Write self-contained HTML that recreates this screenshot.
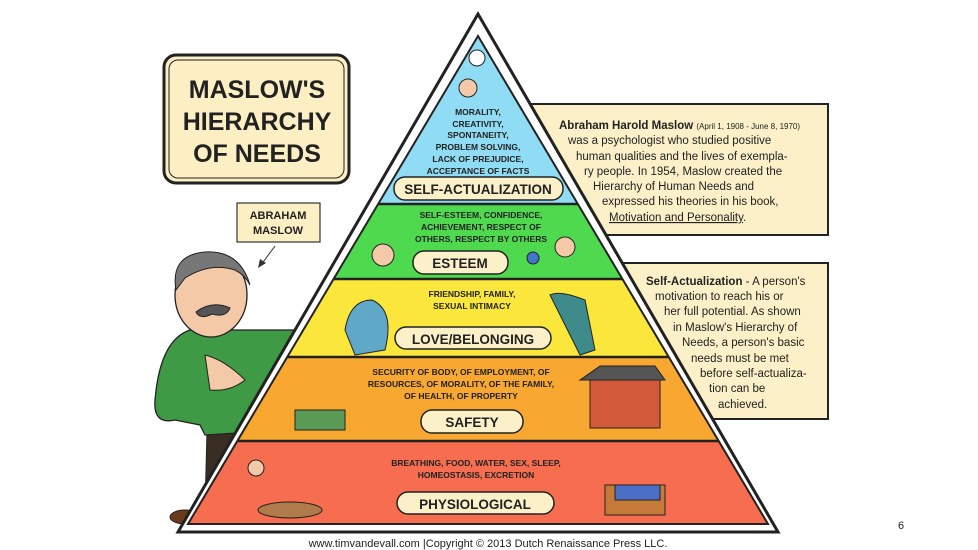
<!DOCTYPE html>
<html><head><meta charset="utf-8"><style>
html,body{margin:0;padding:0;background:#fff;}
svg{display:block;}
.c{font-family:"Liberation Sans",sans-serif;font-weight:bold;fill:#222;text-anchor:middle;}
.p{font-family:"Liberation Sans",sans-serif;fill:#222;}
</style></head><body>
<svg width="978" height="550" viewBox="0 0 978 550" xmlns="http://www.w3.org/2000/svg">
<rect width="978" height="550" fill="#fff"/>
<!-- right boxes -->
<rect x="520" y="104" width="308" height="131" fill="#fcf0c8" stroke="#222" stroke-width="2"/>
<rect x="600" y="263" width="228" height="156" fill="#fcf0c8" stroke="#222" stroke-width="2"/>
<!-- title box -->
<rect x="164" y="55" width="185" height="128" rx="12" fill="#fbefc3" stroke="#222" stroke-width="3"/>
<rect x="169" y="60" width="175" height="118" rx="9" fill="none" stroke="#222" stroke-width="1"/>
<text class="c" x="257" y="98" font-size="25" fill="#111">MASLOW'S</text>
<text class="c" x="257" y="130" font-size="25" fill="#111">HIERARCHY</text>
<text class="c" x="257" y="162" font-size="25" fill="#111">OF NEEDS</text>
<!-- abraham label -->
<rect x="237" y="203" width="83" height="39" fill="#fbefc3" stroke="#333" stroke-width="1.2"/>
<text class="c" x="278" y="219" font-size="11">ABRAHAM</text>
<text class="c" x="278" y="234" font-size="11">MASLOW</text>
<line x1="275" y1="246" x2="261" y2="265" stroke="#333" stroke-width="1"/>
<path d="M258 268 L260 259 L266 263 Z" fill="#333"/>
<!-- man -->
<path d="M207 430 L240 430 L245 510 L205 510 Z" fill="#3a2e22" stroke="#222"/>
<ellipse cx="185" cy="517" rx="15" ry="7" fill="#6b3a1c" stroke="#222"/>
<path d="M190 330 Q160 340 155 400 Q153 425 175 420 L200 425 L205 435 L290 430 L300 330 Z" fill="#3f9a45" stroke="#222" stroke-width="1.3"/>
<path d="M205 355 Q225 360 245 380 Q230 392 210 390 Z" fill="#f3c9a8" stroke="#222"/>
<ellipse cx="211" cy="295" rx="36" ry="42" fill="#f3c9a8" stroke="#222" stroke-width="1.3"/>
<path d="M176 290 Q170 255 205 252 Q240 250 250 285 Q245 275 235 270 Q210 262 185 278 Z" fill="#777" stroke="#222"/>
<path d="M196 312 Q212 300 230 308 Q226 318 212 314 Q200 320 196 312 Z" fill="#555" stroke="#222"/>
<!-- pyramid -->
<path d="M478 14 L178 532 L778 532 Z" fill="#fff" stroke="#222" stroke-width="3"/>
<clipPath id="tri"><path d="M478 36 L188 524 L768 524 Z"/></clipPath>
<g clip-path="url(#tri)">
<rect x="150" y="0" width="700" height="204" fill="#90dcf4"/>
<rect x="150" y="204" width="700" height="75" fill="#4fd94f"/>
<rect x="150" y="279" width="700" height="78" fill="#fbe73b"/>
<rect x="150" y="357" width="700" height="84" fill="#f8a731"/>
<rect x="150" y="441" width="700" height="90" fill="#f66d50"/>
<g stroke="#222" stroke-width="2.5">
<line x1="150" y1="204" x2="850" y2="204"/><line x1="150" y1="279" x2="850" y2="279"/>
<line x1="150" y1="357" x2="850" y2="357"/><line x1="150" y1="441" x2="850" y2="441"/>
</g>
</g>
<path d="M478 36 L188 524 L768 524 Z" fill="none" stroke="#222" stroke-width="2"/>
<!-- small figures -->
<circle cx="477" cy="58" r="8" fill="#fff" stroke="#222"/>
<circle cx="468" cy="88" r="9" fill="#f3c9a8" stroke="#222"/>
<circle cx="383" cy="255" r="11" fill="#f3c9a8" stroke="#222"/>
<circle cx="565" cy="247" r="10" fill="#f3c9a8" stroke="#222"/>
<circle cx="533" cy="258" r="6" fill="#4477cc" stroke="#222"/>
<path d="M345 330 Q350 300 372 300 Q395 310 385 350 L355 355 Z" fill="#5fa8c8" stroke="#222"/>
<path d="M550 295 Q560 290 585 300 L595 350 L580 355 Z" fill="#3f8a8a" stroke="#222"/>
<rect x="590" y="378" width="70" height="50" fill="#d25a3a" stroke="#222"/>
<path d="M580 380 L600 366 L655 366 L665 380 Z" fill="#555" stroke="#222"/>
<rect x="295" y="410" width="50" height="20" fill="#5a9a55" stroke="#222"/>
<ellipse cx="290" cy="510" rx="32" ry="8" fill="#b07a4a" stroke="#222"/>
<circle cx="256" cy="468" r="8" fill="#f3c9a8" stroke="#222"/>
<rect x="605" y="485" width="60" height="30" fill="#c57a3a" stroke="#222"/>
<rect x="615" y="485" width="45" height="15" fill="#4a6fc4" stroke="#222"/>
<!-- layer texts -->
<g class="c" font-size="8.5">
<text x="478" y="115">MORALITY,</text><text x="478" y="127">CREATIVITY,</text><text x="478" y="138">SPONTANEITY,</text><text x="478" y="150">PROBLEM SOLVING,</text><text x="478" y="162">LACK OF PREJUDICE,</text><text x="478" y="174">ACCEPTANCE OF FACTS</text>
<text x="481" y="218">SELF-ESTEEM, CONFIDENCE,</text><text x="481" y="230">ACHIEVEMENT, RESPECT OF</text><text x="481" y="242">OTHERS, RESPECT BY OTHERS</text>
<text x="472" y="297">FRIENDSHIP, FAMILY,</text><text x="472" y="309">SEXUAL INTIMACY</text>
<text x="461" y="375">SECURITY OF BODY, OF EMPLOYMENT, OF</text><text x="461" y="387">RESOURCES, OF MORALITY, OF THE FAMILY,</text><text x="461" y="399">OF HEALTH, OF PROPERTY</text>
<text x="476" y="466">BREATHING, FOOD, WATER, SEX, SLEEP,</text><text x="476" y="478">HOMEOSTASIS, EXCRETION</text>
</g>
<!-- pills -->
<g fill="#fcf0c8" stroke="#222" stroke-width="1.5">
<rect x="394" y="177" width="169" height="23" rx="11"/>
<rect x="413" y="251" width="95" height="23" rx="11"/>
<rect x="395" y="327" width="156" height="22" rx="11"/>
<rect x="421" y="410" width="102" height="23" rx="11"/>
<rect x="397" y="492" width="157" height="22" rx="11"/>
</g>
<g class="c" font-size="13.5">
<text x="478" y="194">SELF-ACTUALIZATION</text>
<text x="460" y="268">ESTEEM</text>
<text x="473" y="344">LOVE/BELONGING</text>
<text x="472" y="427">SAFETY</text>
<text x="475" y="509">PHYSIOLOGICAL</text>
</g>
<!-- right text 1 -->
<g class="p" font-size="11.5">
<text x="559" y="129"><tspan font-weight="bold">Abraham Harold Maslow</tspan> <tspan font-size="8">(April 1, 1908 - June 8, 1970)</tspan></text>
<text x="568" y="144">was a psychologist who studied positive</text>
<text x="576" y="160">human qualities and the lives of exempla-</text>
<text x="584" y="175">ry people. In 1954, Maslow created the</text>
<text x="593" y="190">Hierarchy of Human Needs and</text>
<text x="602" y="205">expressed his theories in his book,</text>
<text x="609" y="221"><tspan text-decoration="underline">Motivation and Personality</tspan>.</text>
</g>
<g class="p" font-size="11.5">
<text x="646" y="285"><tspan font-weight="bold">Self-Actualization</tspan> - A person's</text>
<text x="655" y="300">motivation to reach his or</text>
<text x="664" y="315">her full potential. As shown</text>
<text x="673" y="331">in Maslow's Hierarchy of</text>
<text x="682" y="346">Needs, a person's basic</text>
<text x="691" y="362">needs must be met</text>
<text x="700" y="377">before self-actualiza-</text>
<text x="709" y="392">tion can be</text>
<text x="718" y="408">achieved.</text>
</g>
<text class="p" x="488" y="547" font-size="11" text-anchor="middle">www.timvandevall.com |Copyright © 2013 Dutch Renaissance Press LLC.</text>
<text class="p" x="898" y="529" font-size="11" fill="#999">6</text>
</svg>
</body></html>
